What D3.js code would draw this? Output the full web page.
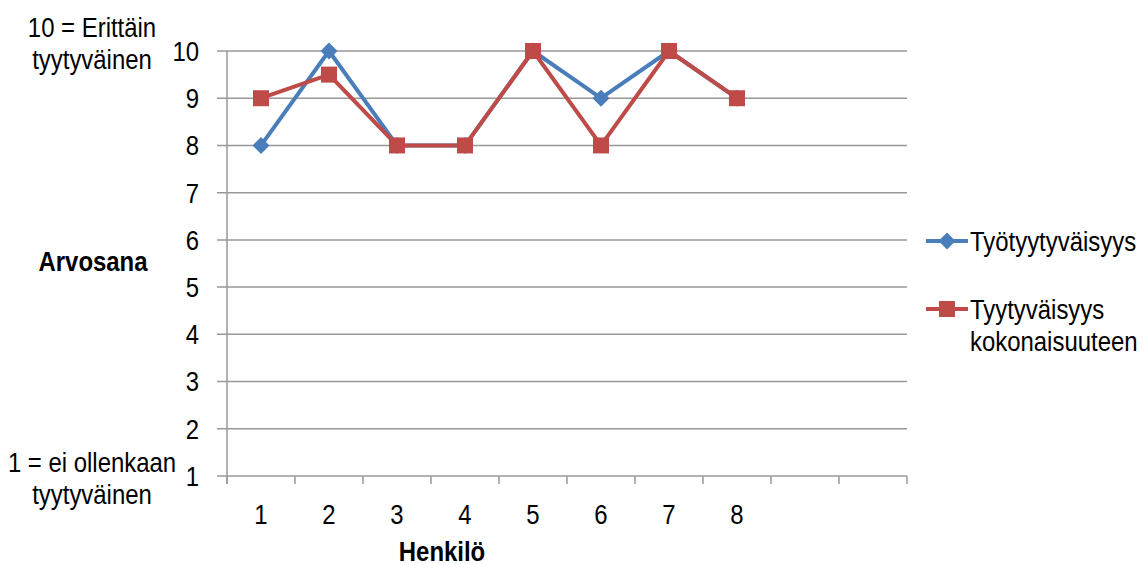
<!DOCTYPE html>
<html><head><meta charset="utf-8">
<script src="https://cdn.jsdelivr.net/npm/d3@7"></script>
<style>body{margin:0;background:#fff;}</style>
</head><body><svg id="c" width="1146" height="564"></svg>
<script>
const categories = ["1","2","3","4","5","6","7","8","",""];
const tyotyytyvaisyys = [8,10,8,8,10,9,10,9];
const kokonaisuuteen = [9,9.5,8,8,10,8,10,9];
const yTicks = [1,2,3,4,5,6,7,8,9,10];
const seriesNames = ["Työtyytyväisyys", ["Tyytyväisyys","kokonaisuuteen"]];
const colors = ["#4A7EBB","#BE4B48"];

const svg = d3.select("#c");
const pLeft = 227, pRight = 907, pTop = 51, pBottom = 476;
const x = d3.scaleBand().domain(d3.range(categories.length)).range([pLeft, pRight]);
const y = d3.scaleLinear().domain([1,10]).range([pBottom, pTop]);
const font = '"Liberation Sans",Arial,sans-serif';
const fs = 27.5, sx = 0.87, lh = 32.5;

// narrow text helper: lines centred vertically on each y
function addText(parent, tx, ty, lines, anchor, bold) {
  if (!Array.isArray(lines)) lines = [lines];
  const t = parent.append("text")
    .attr("transform", `translate(${tx},${ty}) scale(${sx},1)`)
    .attr("font-family", font).attr("font-size", fs)
    .attr("text-anchor", anchor || "start")
    .attr("font-weight", bold ? "bold" : null);
  lines.forEach((l, i) => t.append("tspan").attr("x", 0).attr("y", i * lh).attr("dy", "0.36em").text(l));
  return t;
}

// gridlines
svg.append("g").selectAll("line").data(yTicks).join("line")
  .attr("x1", pLeft - 10).attr("x2", pRight).attr("y1", d=>y(d)).attr("y2", d=>y(d))
  .attr("stroke","#989898").attr("stroke-width",1.5);
// y axis line
svg.append("line").attr("x1",pLeft).attr("x2",pLeft).attr("y1",pTop).attr("y2",pBottom+8)
  .attr("stroke","#989898").attr("stroke-width",1.5);
// x ticks
svg.append("g").selectAll("line").data(d3.range(categories.length+1)).join("line")
  .attr("x1", i=>pLeft + i*x.bandwidth()).attr("x2", i=>pLeft + i*x.bandwidth())
  .attr("y1", pBottom).attr("y2", pBottom+8).attr("stroke","#989898").attr("stroke-width",1.5);
// y labels
const gy = svg.append("g");
yTicks.forEach(d => addText(gy, pLeft-28, y(d), String(d), "end"));
// x labels
const gx = svg.append("g");
categories.forEach((d,i) => addText(gx, x(i)+x.bandwidth()/2, 514, d, "middle"));

// axis titles
addText(svg, 442, 551, "Henkilö", "middle", true);
addText(svg, 93, 261, "Arvosana", "middle", true);
addText(svg, 92, 27, ["10 = Erittäin","tyytyväinen"], "middle");
addText(svg, 92, 462, ["1 = ei ollenkaan","tyytyväinen"], "middle");

const line = d3.line().x((d,i)=>x(i)+x.bandwidth()/2).y(d=>y(d));
[tyotyytyvaisyys, kokonaisuuteen].forEach((data,k)=>{
  svg.append("path").datum(data).attr("d",line).attr("fill","none")
    .attr("stroke",colors[k]).attr("stroke-width",4).attr("stroke-linejoin","round");
});
// markers
svg.append("g").selectAll("path").data(tyotyytyvaisyys).join("path")
  .attr("transform",(d,i)=>`translate(${x(i)+x.bandwidth()/2},${y(d)})`)
  .attr("d","M0,-8.5L8.5,0L0,8.5L-8.5,0Z").attr("fill",colors[0]);
svg.append("g").selectAll("rect").data(kokonaisuuteen).join("rect")
  .attr("x",(d,i)=>x(i)+x.bandwidth()/2-8).attr("y",d=>y(d)-8)
  .attr("width",16).attr("height",16).attr("fill",colors[1]);

// legend
const lg = svg.append("g");
lg.append("line").attr("x1",926).attr("x2",968).attr("y1",241).attr("y2",241).attr("stroke",colors[0]).attr("stroke-width",4);
lg.append("path").attr("transform","translate(947,241)").attr("d","M0,-8.5L8.5,0L0,8.5L-8.5,0Z").attr("fill",colors[0]);
addText(lg, 970, 241, seriesNames[0], "start");
lg.append("line").attr("x1",926).attr("x2",968).attr("y1",309).attr("y2",309).attr("stroke",colors[1]).attr("stroke-width",4);
lg.append("rect").attr("x",939).attr("y",301).attr("width",16).attr("height",16).attr("fill",colors[1]);
addText(lg, 970, 309, seriesNames[1], "start");
</script></body></html>
